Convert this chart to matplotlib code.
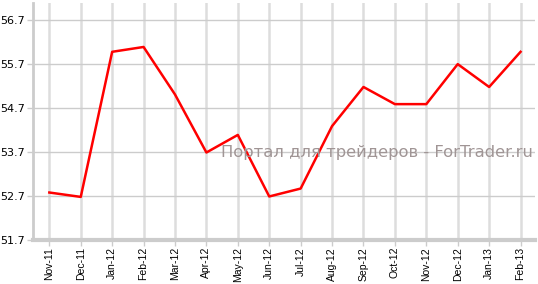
import matplotlib
matplotlib.use("Agg")
import matplotlib.pyplot as plt

months = ["Nov-11", "Dec-11", "Jan-12", "Feb-12", "Mar-12", "Apr-12", "May-12", "Jun-12",
          "Jul-12", "Aug-12", "Sep-12", "Oct-12", "Nov-12", "Dec-12", "Jan-13", "Feb-13"]
values = [52.78, 52.68, 55.98, 56.09, 55.01, 53.69, 54.09, 52.69,
          52.87, 54.29, 55.18, 54.79, 54.79, 55.70, 55.18, 55.98]
yticks = [51.7, 52.7, 53.7, 54.7, 55.7, 56.7]

fig = plt.figure(figsize=(5.38, 2.84), dpi=100)
ax = fig.add_axes([33 / 538, 44 / 284, 502 / 538, 237 / 284])

x = list(range(len(months)))
ax.plot(x, values, color="#ff0000", linewidth=1.8, zorder=3)

ax.set_xlim(-0.52, len(months) - 1 + 0.46)
ax.set_ylim(51.7, 57.09)
ax.set_xticks(x)
ax.set_xticklabels(months, rotation=90, fontsize=7.5, family="Liberation Sans")
ax.set_yticks(yticks)
ax.set_yticklabels([f"{v:.1f}" for v in yticks], fontsize=8)

# grid
for xi in x:
    ax.axvline(xi, color="#dddddd", linewidth=1.8, zorder=1)
for yv in yticks[1:]:
    ax.axhline(yv, color="#cccccc", linewidth=1.0, zorder=1)

for s in ["top", "right"]:
    ax.spines[s].set_visible(False)
ax.spines["left"].set_color("#cccccc")
ax.spines["left"].set_linewidth(2)
ax.spines["bottom"].set_color("#cccccc")
ax.spines["bottom"].set_linewidth(3)
ax.tick_params(axis="both", colors="#cccccc", length=4, width=1, labelcolor="black", pad=2)
ax.tick_params(axis="x", pad=1)

# watermark
fig.text(377 / 538, 1 - 152 / 284, "Портал для трейдеров - ForTrader.ru",
         ha="center", va="center", fontsize=11.8, color="#a09595", zorder=5)

fig.savefig("out.png", dpi=100)
